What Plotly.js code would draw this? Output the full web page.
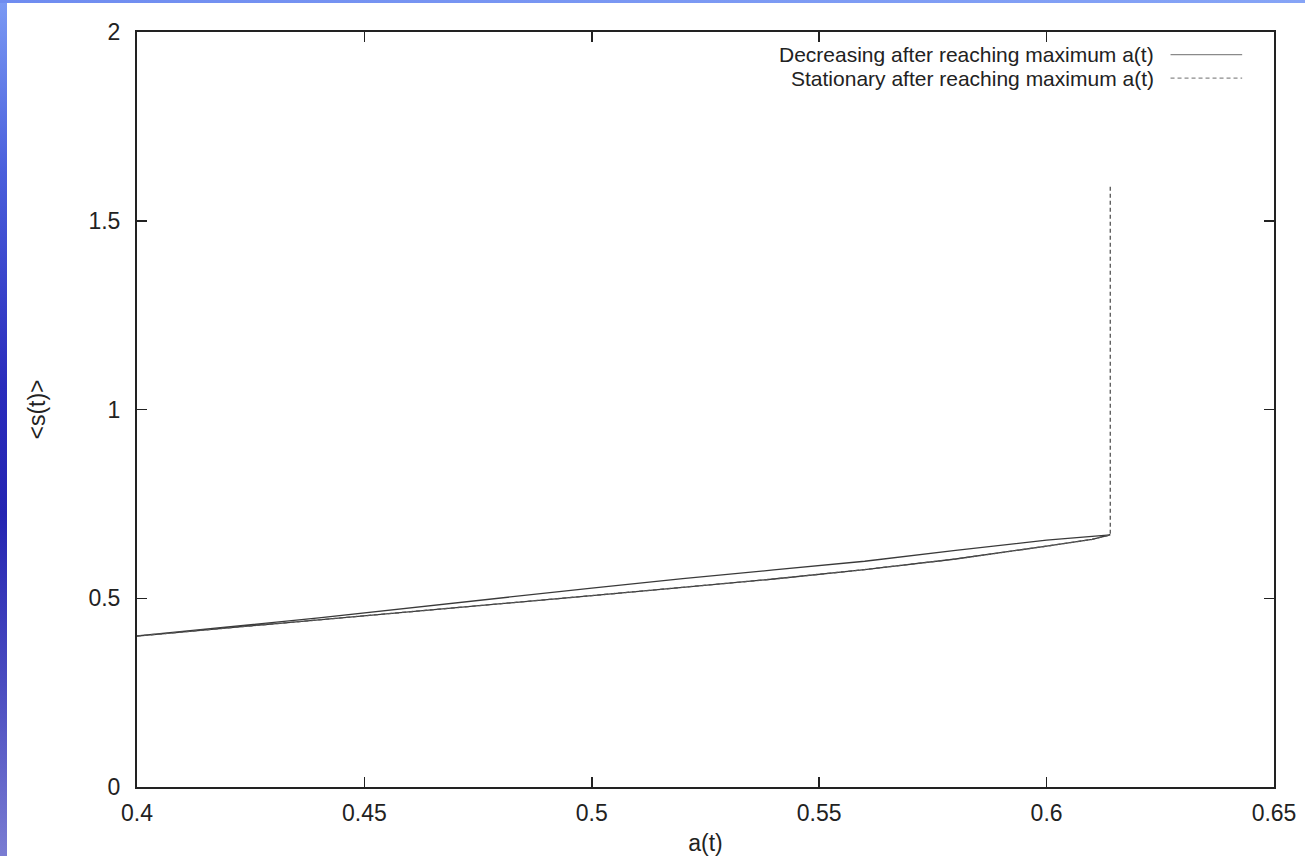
<!DOCTYPE html>
<html>
<head>
<meta charset="utf-8">
<script src="https://cdn.plot.ly/plotly-3.0.1.min.js"></script>
<style>
  html, body { margin: 0; padding: 0; width: 1305px; height: 856px; overflow: hidden; background: #fff; }
  #chart { position: absolute; left: 0; top: 0; width: 1305px; height: 856px; }
  #lstrip { position: absolute; left: 0; top: 0; width: 7px; height: 856px; z-index: 5;
    background: linear-gradient(to bottom, #7b9af4 0%, #4a5fdc 20%, #2a2cbc 45%, #2424b2 60%, #4a4cc0 80%, #7a7cd2 100%); }
  #tstrip { position: absolute; left: 0; top: 0; width: 1305px; height: 3px; z-index: 5;
    background: linear-gradient(to right, #6f8cf0, #86a4f6); }
</style>
</head>
<body>
<div id="chart"></div>
<div id="lstrip"></div>
<div id="tstrip"></div>
<script>
// Series names
var seriesNames = ["Decreasing after reaching maximum a(t)", "Stationary after reaching maximum a(t)"];

// Increasing phase (shared by both runs)
var aRise = [0.40, 0.42, 0.44, 0.46, 0.48, 0.50, 0.52, 0.54, 0.56, 0.58, 0.60, 0.61, 0.614];
var sRise = [0.400, 0.421, 0.443, 0.465, 0.486, 0.507, 0.529, 0.551, 0.576, 0.604, 0.638, 0.656, 0.668];

// Decreasing run: return path after maximum
var aFall = [0.614, 0.61, 0.60, 0.58, 0.56, 0.54, 0.52, 0.50, 0.48, 0.46, 0.44, 0.42, 0.40];
var sFall = [0.668, 0.664, 0.654, 0.627, 0.598, 0.575, 0.552, 0.527, 0.500, 0.475, 0.448, 0.424, 0.400];

// Stationary run: a(t) stays at maximum while <s(t)> rises
var aStay = [0.614, 0.614];
var sStay = [0.668, 1.59];

// Axis ticks
var xTicks = [0.4, 0.45, 0.5, 0.55, 0.6, 0.65];
var xTickText = ["0.4", "0.45", "0.5", "0.55", "0.6", "0.65"];
var yTicks = [0, 0.5, 1, 1.5, 2];
var yTickText = ["0", "0.5", "1", "1.5", "2"];

var traceDec = {
  x: aRise.concat(aFall), y: sRise.concat(sFall),
  mode: "lines", name: seriesNames[0], showlegend: false,
  line: { color: "#3a3a3a", width: 1.3 }
};
var traceSta = {
  x: aRise.concat(aStay), y: sRise.concat(sStay),
  mode: "lines", name: seriesNames[1], showlegend: false,
  line: { color: "#555555", width: 1.3, dash: "4px,3px" }
};

var fontFam = "Liberation Sans, Arial, Helvetica, sans-serif";
var fs = 23;
var axisCommon = {
  showgrid: false, zeroline: false, showline: true, linecolor: "#222", linewidth: 2,
  mirror: "ticks", ticks: "inside", ticklen: 10, tickwidth: 1.5, tickcolor: "#222",
  tickfont: { family: fontFam, size: fs, color: "#222" }
};

var legendRowsY = [0.970, 0.939];
var annotations = [], shapes = [];
for (var i = 0; i < seriesNames.length; i++) {
  annotations.push({
    xref: "paper", yref: "paper", x: 0.896, y: legendRowsY[i], xanchor: "right", yanchor: "middle",
    text: seriesNames[i], showarrow: false, font: { family: fontFam, size: 21, color: "#222" }
  });
  shapes.push({
    type: "line", xref: "paper", yref: "paper", x0: 0.909, x1: 0.972, y0: legendRowsY[i], y1: legendRowsY[i],
    line: { color: "#8a8a8a", width: 1.3, dash: i === 0 ? "solid" : "4px,3px" }
  });
}

var layout = {
  width: 1305, height: 856,
  margin: { l: 137, r: 31, t: 32, b: 69 },
  paper_bgcolor: "#ffffff", plot_bgcolor: "#ffffff",
  showlegend: false,
  xaxis: Object.assign({}, axisCommon, {
    range: [0.4, 0.65], tickvals: xTicks, ticktext: xTickText, ticklabelstandoff: 4,
    title: { text: "a(t)", font: { family: fontFam, size: fs, color: "#222" }, standoff: 16 }
  }),
  yaxis: Object.assign({}, axisCommon, {
    range: [0, 2], tickvals: yTicks, ticktext: yTickText, ticklabelstandoff: 10,
    title: { text: "&lt;s(t)&gt;", font: { family: fontFam, size: fs, color: "#222" }, standoff: 36 }
  }),
  annotations: annotations,
  shapes: shapes
};

Plotly.newPlot("chart", [traceDec, traceSta], layout, { displayModeBar: false, staticPlot: true });
</script>
</body>
</html>
